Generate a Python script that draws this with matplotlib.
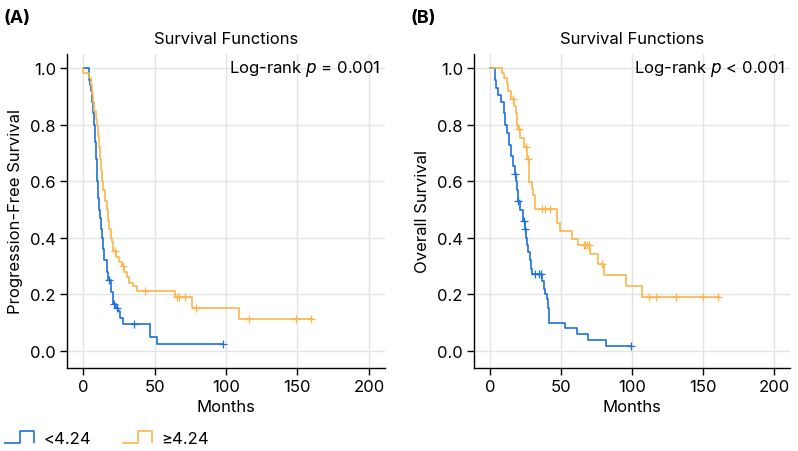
import numpy as np
import matplotlib
matplotlib.use("Agg")
import matplotlib.pyplot as plt
from matplotlib.path import Path
from matplotlib.lines import Line2D

plt.rcParams['font.family'] = ['Inter', 'DejaVu Sans']

BLUE = '#1b6fde'
ORANGE = '#fdb549'

# panel A: progression-free survival, step times / survival after each drop
pfs_low_t = [4.2, 4.9, 5.6, 6.5, 7.2, 7.9, 8.5, 8.9, 9.5, 10.0, 10.7, 11.3, 11.9, 12.5, 13.0,
             14.0, 15.0, 16.5, 17.7, 19.3, 21.0, 23.0, 24.5, 26.0, 28.0, 47.0, 52.0]
pfs_low_s = [0.96, 0.94, 0.92, 0.88, 0.84, 0.80, 0.74, 0.68, 0.64, 0.60, 0.54, 0.50, 0.47, 0.43, 0.40,
             0.36, 0.32, 0.28, 0.25, 0.21, 0.165, 0.15, 0.14, 0.118, 0.094, 0.05, 0.023]
pfs_low_end = 98
pfs_low_cens = [18.4, 22.0, 24.0, 35.7, 98]

pfs_high_t = [0.2, 4.4, 5.6, 6.5, 7.0, 8.0, 8.9, 9.6, 10.5, 11.2, 11.9, 12.5, 13.0, 14.2, 15.5,
              16.6, 17.5, 18.4, 19.4, 20.0, 21.0, 23.0, 25.5, 27.0, 29.0, 30.5, 32.5, 34.7, 37.5,
              64.0, 76.0, 109.4]
pfs_high_s = [0.982, 0.965, 0.94, 0.91, 0.88, 0.85, 0.82, 0.80, 0.76, 0.72, 0.68, 0.64, 0.60, 0.57, 0.53,
              0.50, 0.46, 0.43, 0.40, 0.385, 0.354, 0.331, 0.314, 0.30, 0.28, 0.26, 0.24, 0.23, 0.213,
              0.19, 0.152, 0.113]
pfs_high_end = 160
pfs_high_cens = [22.4, 28.0, 43.0, 65.7, 67.0, 71.5, 79.0, 116.0, 148.7, 159.5]

# panel B: overall survival
os_low_t = [3.5, 4.5, 5.9, 7.5, 9.9, 10.6, 12.0, 13.6, 15.0, 16.2, 17.5, 18.4, 19.2, 20.0, 21.2,
            23.0, 24.5, 25.4, 26.0, 27.0, 28.0, 29.0, 29.5, 36.5, 37.7, 38.5, 40.0, 40.5, 41.2,
            53.0, 61.3, 69.0, 81.3]
os_low_s = [0.96, 0.93, 0.905, 0.879, 0.84, 0.80, 0.77, 0.73, 0.69, 0.655, 0.625, 0.60, 0.57, 0.53, 0.50,
            0.46, 0.43, 0.40, 0.375, 0.35, 0.32, 0.29, 0.272, 0.248, 0.22, 0.20, 0.184, 0.15, 0.099,
            0.08, 0.059, 0.039, 0.019]
os_low_end = 99
os_low_cens = [17.7, 20.0, 24.0, 24.8, 31.8, 34.5, 35.8, 99]

os_high_t = [8.2, 9.9, 11.8, 12.9, 14.6, 17.2, 18.2, 19.3, 20.0, 21.2, 23.6, 26.0, 27.2, 27.8,
             29.5, 30.6, 31.8, 47.0, 49.5, 57.7, 61.8, 70.7, 75.8, 80.0, 96.0, 106.8]
os_high_s = [0.982, 0.965, 0.943, 0.92, 0.89, 0.867, 0.84, 0.80, 0.784, 0.755, 0.72, 0.678, 0.64, 0.596,
             0.572, 0.55, 0.502, 0.451, 0.425, 0.396, 0.376, 0.343, 0.307, 0.27, 0.229, 0.192]
os_high_end = 161
os_high_cens = [16.5, 20.7, 25.4, 26.6, 36.5, 38.9, 42.2, 66.0, 67.0, 68.0, 70.0, 79.0,
                112.0, 117.0, 130.6, 149.5, 160.2]

group_labels = ['<4.24', '\u22654.24']
panels = [
    ('(A)', 'Progression-Free Survival', 'Log-rank $p$ = 0.001',
     [(pfs_low_t, pfs_low_s, pfs_low_end, pfs_low_cens), (pfs_high_t, pfs_high_s, pfs_high_end, pfs_high_cens)]),
    ('(B)', 'Overall Survival', 'Log-rank $p$ < 0.001',
     [(os_low_t, os_low_s, os_low_end, os_low_cens), (os_high_t, os_high_s, os_high_end, os_high_cens)]),
]


def km_step(ax, t, s, end, cens, color):
    t = np.r_[0, t, end]
    s = np.r_[1.0, s, s[-1]]
    ax.step(t, s, where='post', color=color, lw=1.2)
    idx = np.searchsorted(t, cens, side='right') - 1
    ax.plot(cens, s[idx], '+', color=color, ms=6, mew=0.9, ls='none')


fig = plt.figure(figsize=(7.98, 4.52), dpi=100)
boxes = [[0.084, 0.184, 0.398, 0.694], [0.594, 0.184, 0.396, 0.694]]
for box, (tag, ylab, ptxt, curves) in zip(boxes, panels):
    ax = fig.add_axes(box)
    for (t, s, end, cens), col in zip(curves, [BLUE, ORANGE]):
        km_step(ax, t, s, end, cens, col)
    ax.set_xlim(-11.2, 211)
    ax.set_ylim(-0.06, 1.05)
    ax.set_xticks([0, 50, 100, 150, 200])
    ax.set_yticks([0.0, 0.2, 0.4, 0.6, 0.8, 1.0])
    ax.set_yticklabels(['0.0', '0.2', '0.4', '0.6', '0.8', '1.0'])
    ax.grid(True, color='#e4e4e4', lw=1.0)
    ax.set_axisbelow(True)
    for side in ['top', 'right']:
        ax.spines[side].set_visible(False)
    for side in ['left', 'bottom']:
        ax.spines[side].set_linewidth(1.0)
    ax.tick_params(labelsize=12, length=5, width=1.0, pad=3)
    ax.set_xlabel('Months', fontsize=12, labelpad=4)
    ax.set_ylabel(ylab, fontsize=12, labelpad=5)
    ax.set_title('Survival Functions', fontsize=12, pad=8)
    ax.text(0.985, 0.955, ptxt, transform=ax.transAxes, ha='right', va='center', fontsize=12)
    fig.text(box[0] - 0.079, 0.958, tag, fontsize=13, fontweight='bold', ha='left', va='center')

# step-shaped legend glyph
step_glyph = Path([(-1, -0.4), (0.1, -0.4), (0.1, 0.4), (1, 0.4), (1, -0.4)],
                  [Path.MOVETO] + [Path.LINETO] * 4)
handles = [Line2D([], [], ls='none', marker=step_glyph, ms=21, mew=1.2, mfc='none', mec=c)
           for c in [BLUE, ORANGE]]
fig.legend(handles, group_labels, loc='lower left', bbox_to_anchor=(-0.016, -0.022), ncol=2,
           frameon=False, fontsize=12, handlelength=2.0, handletextpad=0.5, columnspacing=1.7)

fig.savefig('out.png', dpi=100)
